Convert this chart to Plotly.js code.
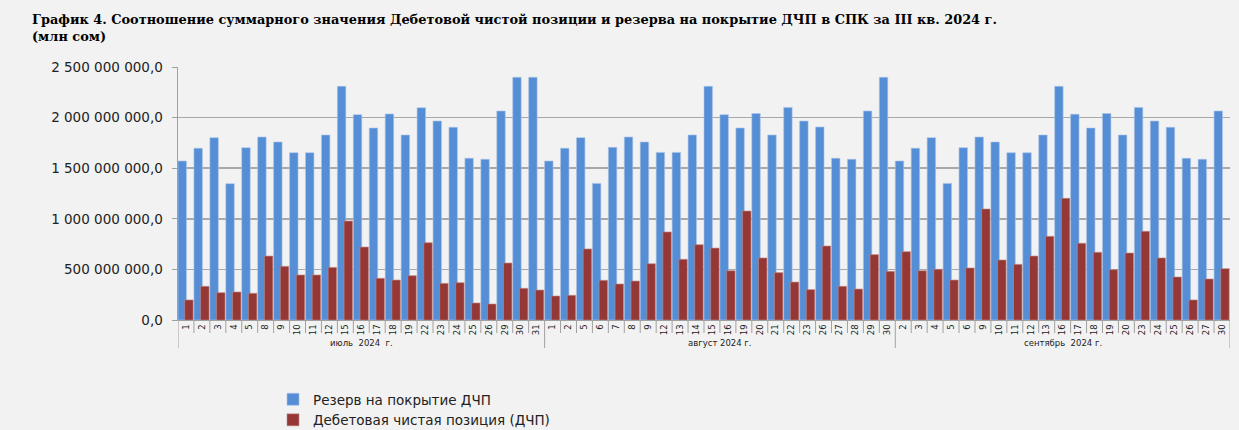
<!DOCTYPE html>
<html><head><meta charset="utf-8">
<script src="https://cdn.plot.ly/plotly-3.0.1.min.js"></script>
<style>html,body{margin:0;padding:0;background:#F2F2F2;}#chart{width:1239px;height:430px;}</style>
</head><body><div id="chart"></div>
<script>
const julyDays = [1,2,3,4,5,8,9,10,11,12,15,16,17,18,19,22,23,24,25,26,29,30,31];
const augDays  = [1,2,5,6,7,8,9,12,13,14,15,16,19,20,21,22,23,26,27,28,29,30];
const sepDays  = [2,3,4,5,6,9,10,11,12,13,16,17,18,19,20,23,24,25,26,27,30];
const monthLabels = ["июль  2024  г.", "август 2024 г.", "сентябрь  2024 г."];

// Резерв на покрытие ДЧП (млн сом)
const reserveJul = [1571,1697,1802,1347,1703,1808,1759,1653,1653,1828,2309,2029,1897,2036,1828,2098,1966,1904,1598,1588,2065,2398,2398];
const reserveAug = [1571,1697,1802,1350,1706,1808,1759,1656,1656,1828,2309,2029,1897,2040,1828,2101,1966,1907,1598,1588,2065,2398];
const reserveSep = [1571,1697,1802,1350,1703,1808,1759,1653,1653,1828,2309,2033,1897,2040,1828,2101,1966,1904,1598,1588,2065];
// Дебетовая чистая позиция (ДЧП), млн сом
const dchpJul = [198,333,270,277,264,632,530,445,445,520,978,721,412,395,438,764,362,369,168,158,563,313,296];
const dchpAug = [237,244,702,392,356,385,556,870,600,744,711,487,1077,613,468,375,300,731,333,306,646,481];
const dchpSep = [675,487,501,395,514,1097,593,550,632,827,1202,758,669,497,662,876,613,425,198,405,507];

const yTickVals = [0,500000000,1000000000,1500000000,2000000000,2500000000];
const yTickText = ["0,0","500 000 000,0","1 000 000 000,0","1 500 000 000,0","2 000 000 000,0","2 500 000 000,0"];

const months = [julyDays, augDays, sepDays];
const xs = [], dayText = [], bounds = [-0.5];
let k = 0;
months.forEach(d => { d.forEach(v => { xs.push(k); dayText.push(String(v)); k++; }); bounds.push(k - 0.5); });
const reserve = reserveJul.concat(reserveAug, reserveSep).map(v => v * 1e6);
const dchp = dchpJul.concat(dchpAug, dchpSep).map(v => v * 1e6);

const plotH = 430 - 67 - 110;
const shapes = [];
for (let i = 0; i <= xs.length; i++) {
  const b = i - 0.5;
  const isMonth = bounds.includes(b);
  shapes.push({type:'line', xref:'x', yref:'paper', x0:b, x1:b, y0:0, y1:-(isMonth ? 28 : 13) / plotH,
    line:{color:'#A0A0A0', width:1}});
}
const annotations = monthLabels.map((m, i) => ({
  text: m, xref:'x', yref:'paper', x:(bounds[i] + bounds[i+1]) / 2, y:-23 / plotH,
  yanchor:'middle', showarrow:false, font:{size:8.5, family:'DejaVu Sans', color:'#222'}
}));

const traces = [
  {type:'bar', name:'Резерв на покрытие ДЧП', x:xs, y:reserve, offset:-0.5, width:0.53,
   marker:{color:'#558ED5', line:{color:'#A9C4EA', width:0.6}}},
  {type:'bar', name:'Дебетовая чистая позиция (ДЧП)', x:xs, y:dchp, offset:-0.08, width:0.53,
   marker:{color:'#953735', line:{color:'#C08A89', width:0.6}}}
];

const layout = {
  width:1239, height:430,
  paper_bgcolor:'#F2F2F2', plot_bgcolor:'#F2F2F2',
  margin:{l:178, r:9, t:67, b:110, autoexpand:false},
  barmode:'overlay',
  font:{family:'DejaVu Sans', size:11, color:'#222'},
  title:{text:'<b>График 4. Соотношение суммарного значения Дебетовой чистой позиции и резерва на покрытие ДЧП в СПК за III кв. 2024 г.</b><br><b>(млн сом)</b>',
    x:32/1239, xref:'container', xanchor:'left', y:1-24/430, yref:'container', yanchor:'top',
    font:{family:'DejaVu Serif', size:12.9, color:'#000'}},
  xaxis:{range:[-0.5, xs.length - 0.5], tickvals:xs, ticktext:dayText, ticks:'', tickangle:-90,
    tickfont:{size:8.5, family:'DejaVu Sans'}, showline:true, linecolor:'#A0A0A0', linewidth:1,
    showgrid:false, zeroline:false, automargin:false},
  yaxis:{range:[0,2500000000], tickvals:yTickVals, ticktext:yTickText, ticks:'outside', ticklen:5,
    tickcolor:'#A0A0A0', showline:true, linecolor:'#A0A0A0', linewidth:1.5, ticklabelstandoff:6,
    gridcolor:'#A8A8A8', gridwidth:1.5, zeroline:false, automargin:false,
    tickfont:{size:13.5, family:'DejaVu Sans'}},
  legend:{orientation:'v', x:(273-178)/1052, xanchor:'left', y:-(384-320)/plotH, yanchor:'top',
    bgcolor:'rgba(0,0,0,0)', font:{size:13.5, family:'DejaVu Sans'}},
  shapes: shapes, annotations: annotations,
  showlegend:true
};
Plotly.newPlot('chart', traces, layout, {displayModeBar:false, staticPlot:true});
</script></body></html>
